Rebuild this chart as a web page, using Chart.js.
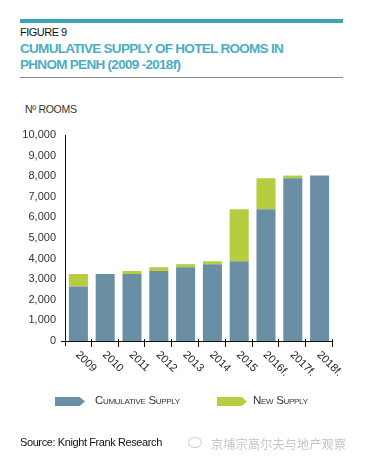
<!DOCTYPE html>
<html>
<head>
<meta charset="utf-8">
<script src="https://cdn.jsdelivr.net/npm/chart.js@4.4.1/dist/chart.umd.min.js"></script>
<style>
  html, body { margin:0; padding:0; background:#fff; }
  body { width:366px; height:461px; position:relative; overflow:hidden; font-family:"Liberation Sans", Arial, sans-serif; }
  #topbar { position:absolute; left:20px; top:19px; width:323px; height:4px; background:#3ea3b6; }
  #fig { position:absolute; left:20px; top:26px; font-size:11px; color:#111; letter-spacing:-0.5px; }
  #title { position:absolute; left:20px; top:41px; font-size:13.5px; font-weight:bold; color:#4aaec4; line-height:16px; letter-spacing:-0.7px; }
  #rule { position:absolute; left:20px; top:77px; width:323px; height:1px; background:#8a8a8a; }
  #unit { position:absolute; left:25px; top:103px; font-size:10.5px; color:#333; letter-spacing:-0.3px; }
  canvas { position:absolute; left:0; top:0; }
  .sw { position:absolute; height:9px; width:30px; top:397px; clip-path:polygon(0 0, 82% 0, 100% 50%, 82% 100%, 0 100%); }
  .lt { position:absolute; top:394px; font-size:11.5px; font-variant:small-caps; color:#333; letter-spacing:-0.3px; }
  #source { position:absolute; left:20px; top:436px; font-size:11px; color:#111; letter-spacing:-0.4px; }
  #wm { position:absolute; left:211px; top:435px; font-family:"Noto Sans CJK SC"; font-size:12px; color:#c4c4c4; letter-spacing:0.3px; white-space:nowrap; }
  #wmicon { position:absolute; left:188px; top:437px; width:12px; height:9px; border:1.5px solid #cfcfcf; border-radius:50%; }
</style>
</head>
<body>
<div id="topbar"></div>
<div id="fig">FIGURE 9</div>
<div id="title">CUMULATIVE SUPPLY OF HOTEL ROOMS IN<br>PHNOM PENH (2009 -2018f)</div>
<div id="rule"></div>
<div id="unit">Nº ROOMS</div>
<canvas id="c" width="366" height="461"></canvas>
<div id="legend"></div>
<div id="source">Source: Knight Frank Research</div>
<div id="wmicon"></div>
<div id="wm">京埔宗高尔夫与地产观察</div>
<script>
const categories = ['2009','2010','2011','2012','2013','2014','2015','2016f.','2017f.','2018f.'];
const cumulativeSupply = [2650, 3250, 3250, 3400, 3580, 3730, 3870, 6400, 7900, 8030];
const newSupply = [600, 0, 150, 180, 150, 140, 2530, 1500, 130, 0];
const seriesNames = ['Cumulative Supply', 'New Supply'];
const seriesColors = ['#6a8ea3', '#b5cd3e'];
const yTicks = [0,1000,2000,3000,4000,5000,6000,7000,8000,9000,10000];

// legend
const legendPos = [[55, 95], [217, 253]];
const lg = document.getElementById('legend');
seriesNames.forEach((n, i) => {
  const s = document.createElement('div');
  s.className = 'sw'; s.style.left = legendPos[i][0] + 'px'; s.style.background = seriesColors[i];
  lg.appendChild(s);
  const t = document.createElement('div');
  t.className = 'lt'; t.style.left = legendPos[i][1] + 'px'; t.textContent = n;
  lg.appendChild(t);
});

const axisPlugin = {
  id: 'axisPlugin',
  afterDraw(chart) {
    const ctx = chart.ctx, a = chart.chartArea, xs = chart.scales.x;
    ctx.save();
    ctx.strokeStyle = '#111'; ctx.lineWidth = 1;
    ctx.beginPath();
    ctx.moveTo(Math.round(a.left) + 0.5, a.top);
    ctx.lineTo(Math.round(a.left) + 0.5, a.bottom + 5);
    ctx.moveTo(a.left - 4, Math.round(a.bottom) + 0.5);
    ctx.lineTo(a.right, Math.round(a.bottom) + 0.5);
    const n = categories.length;
    for (let i = 1; i <= n; i++) {
      let x = i < n ? (xs.getPixelForValue(i - 1) + xs.getPixelForValue(i)) / 2 : a.right;
      x = Math.round(x) - 0.5;
      ctx.moveTo(x, a.bottom - 2);
      ctx.lineTo(x, a.bottom + 6);
    }
    ctx.stroke();
    ctx.fillStyle = '#222';
    ctx.font = '11px "Liberation Sans", Arial, sans-serif';
    ctx.textAlign = 'left'; ctx.textBaseline = 'middle';
    categories.forEach((c, i) => {
      const x = xs.getPixelForValue(i);
      ctx.save();
      ctx.translate(x - 1, a.bottom + 12);
      ctx.rotate(Math.PI / 4);
      ctx.fillText(c, 0, 0);
      ctx.restore();
    });
    ctx.restore();
  }
};

new Chart(document.getElementById('c'), {
  type: 'bar',
  data: {
    labels: categories,
    datasets: [
      { label: seriesNames[0], data: cumulativeSupply, backgroundColor: seriesColors[0], barPercentage: 0.71, categoryPercentage: 1.0 },
      { label: seriesNames[1], data: newSupply, backgroundColor: seriesColors[1], barPercentage: 0.71, categoryPercentage: 1.0 }
    ]
  },
  options: {
    responsive: false,
    devicePixelRatio: 1,
    animation: false,
    layout: { padding: { left: 0, top: 135, right: 33, bottom: 120 } },
    plugins: { legend: { display: false }, tooltip: { enabled: false } },
    scales: {
      x: {
        stacked: true,
        grid: { display: false, drawTicks: false },
        border: { display: false },
        ticks: { display: false },
        afterFit(s) { s.height = 0; }
      },
      y: {
        stacked: true,
        min: 0, max: 10000,
        afterBuildTicks(s) { s.ticks = yTicks.map(v => ({ value: v })); },
        grid: { display: false, drawTicks: false },
        border: { display: false },
        ticks: {
          padding: 9,
          color: '#333',
          font: { family: '"Liberation Sans", Arial, sans-serif', size: 11 },
          callback: v => v.toLocaleString('en-US')
        },
        afterFit(s) { s.width = 65; }
      }
    }
  },
  plugins: [axisPlugin]
});
</script>
</body>
</html>
